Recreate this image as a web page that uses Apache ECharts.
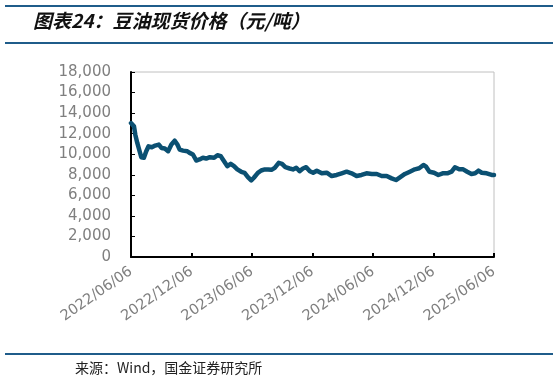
<!DOCTYPE html>
<html><head><meta charset="utf-8">
<script src="https://cdn.jsdelivr.net/npm/echarts@6/dist/echarts.min.js"></script>
<style>html,body{margin:0;padding:0;background:#fff}#c{width:559px;height:384px}</style>
</head><body><div id="c"></div>
<script>
var titleText = '图表24：豆油现货价格（元/吨）';
var sourceText = '来源：Wind，国金证券研究所';
var dates = ['2022-06-06','2022-06-15','2022-06-19','2022-06-25','2022-07-02','2022-07-07','2022-07-15','2022-07-22','2022-07-29','2022-08-08','2022-08-18','2022-08-29','2022-09-06','2022-09-16','2022-09-26','2022-10-06','2022-10-16','2022-10-24','2022-10-31','2022-11-10','2022-11-23','2022-11-30','2022-12-10','2022-12-20','2022-12-30',
 '2023-01-09','2023-01-19','2023-01-30','2023-02-12','2023-02-22','2023-03-04','2023-03-14','2023-03-24','2023-04-03','2023-04-13','2023-04-23','2023-05-05','2023-05-15','2023-05-25','2023-06-04','2023-06-12','2023-06-24','2023-07-04','2023-07-15','2023-07-25','2023-08-04','2023-08-14','2023-08-26','2023-09-05','2023-09-15','2023-09-28','2023-10-08','2023-10-18','2023-10-28','2023-11-07','2023-11-17','2023-11-28','2023-12-08','2023-12-19',
 '2024-01-03','2024-01-18','2024-02-02','2024-02-17','2024-03-03','2024-03-18','2024-04-02','2024-04-17','2024-05-02','2024-05-17','2024-06-02','2024-06-17','2024-07-02','2024-07-17','2024-08-01','2024-08-14','2024-08-26','2024-09-10','2024-09-25','2024-10-10','2024-10-23','2024-11-05','2024-11-13','2024-11-23','2024-12-07','2024-12-20',
 '2025-01-02','2025-01-16','2025-01-29','2025-02-08','2025-02-21','2025-03-05','2025-03-17','2025-03-30','2025-04-10','2025-04-20','2025-04-30','2025-05-15','2025-05-30','2025-06-06'];
var prices = [13030,12710,11900,11100,10290,9710,9650,10290,10770,10680,10840,10940,10610,10550,10290,10940,11320,10940,10450,10350,10290,10130,9970,9390,9490,
 9650,9580,9710,9650,9900,9810,9320,8840,9060,8840,8520,8290,8190,7770,7450,7710,8190,8420,8520,8520,8480,8680,9160,9060,8740,8610,8520,8680,8350,8610,8740,8350,8200,8400,
 8140,8200,7880,7980,8140,8300,8140,7880,7980,8140,8080,8080,7880,7880,7650,7490,7750,8080,8300,8530,8630,8950,8790,8300,8200,7980,
 8140,8140,8300,8730,8530,8530,8300,8080,8140,8400,8200,8140,7980,7980];
var tickDates = ['2022-06-06','2022-12-06','2023-06-06','2023-12-06','2024-06-06','2024-12-06','2025-06-06'];
var yMin = 0, yMax = 18000, yStep = 2000;

function ts(s){ var p = s.split('-'); return Date.UTC(+p[0], +p[1]-1, +p[2]); }
function fmt(v){ var d = new Date(v); function z(n){return (n<10?'0':'')+n;} return d.getUTCFullYear()+'/'+z(d.getUTCMonth()+1)+'/'+z(d.getUTCDate()); }
var tickTs = tickDates.map(ts);
var seriesData = dates.map(function(d,i){ return [ts(d), prices[i]]; });

var chart = echarts.init(document.getElementById('c'), null, {renderer:'canvas'});
chart.setOption({
  animation:false,
  backgroundColor:'#fff',
  grid:{left:131, right:65, top:72, bottom:127, show:true, borderColor:'#c0c0c0', borderWidth:1, backgroundColor:'transparent'},
  xAxis:{
    type:'value', min:tickTs[0], max:tickTs[tickTs.length-1],
    axisLine:{show:true, lineStyle:{color:'#000', width:2}},
    axisTick:{show:true, inside:true, length:4, lineStyle:{color:'#000', width:2}, customValues:tickTs},
    axisLabel:{customValues:tickTs, rotate:35, color:'#7f7f7f', fontFamily:'DejaVu Sans', fontSize:14.5, margin:13,
      formatter:function(v){ return fmt(v); }},
    splitLine:{show:false}
  },
  yAxis:{
    type:'value', min:yMin, max:yMax, interval:yStep,
    axisLine:{show:true, lineStyle:{color:'#000', width:2}},
    axisTick:{show:true, inside:true, length:4, lineStyle:{color:'#000', width:1}},
    axisLabel:{color:'#7f7f7f', fontFamily:'DejaVu Sans', fontSize:15, margin:20,
      formatter:function(v){ return String(v).replace(/\B(?=(\d{3})+(?!\d))/g, ','); }},
    splitLine:{show:false}
  },
  series:[{type:'line', data:seriesData, showSymbol:false, symbol:'none',
    lineStyle:{color:'#0B5072', width:4.5, join:'round', cap:'round'}}],
  graphic:[
    {type:'line', shape:{x1:5,y1:6,x2:553,y2:6}, style:{stroke:'#1F5C8A', lineWidth:2}},
    {type:'line', shape:{x1:5,y1:43,x2:553,y2:43}, style:{stroke:'#1F5C8A', lineWidth:2}},
    {type:'line', shape:{x1:5,y1:354,x2:553,y2:354}, style:{stroke:'#1F5C8A', lineWidth:2}},
    {type:'text', left:33, top:11, style:{text:titleText, font:'italic bold 19px "Noto Sans CJK SC"', fill:'#111'}},
    {type:'text', left:75, top:361, style:{text:sourceText, font:'14px "Noto Sans CJK SC"', fill:'#222'}}
  ]
});
</script></body></html>
